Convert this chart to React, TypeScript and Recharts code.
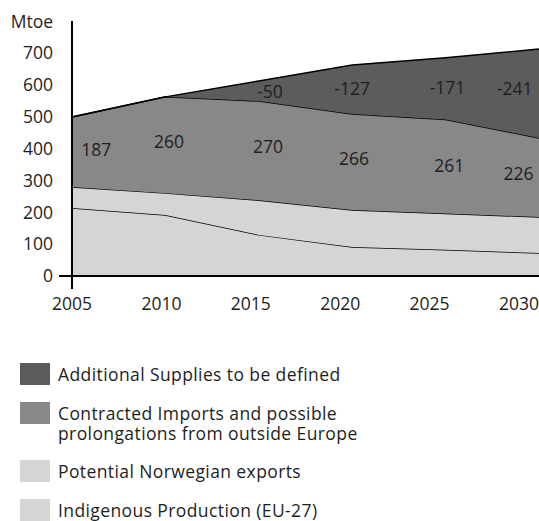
import { AreaChart, Area, XAxis, YAxis, ReferenceDot } from 'recharts';

const years = [2005, 2010, 2015, 2020, 2025, 2030];
const indigenous = [213, 191, 129, 91, 82, 72];
const norwegian = [66, 69, 109, 116, 114, 113];
const contracted = [220, 302, 311, 301, 295, 248];
const additional = [0, 0, 63, 154, 194, 279];

const yTicks = [0, 100, 200, 300, 400, 500, 600, 700];

// numbers printed inside the bands
const contractedNotes = ['187', '260', '270', '266', '261', '226'];
const additionalNotes = ['-50', '-127', '-171', '-241'];

// where those numbers sit, as [year, Mtoe]
const contractedNoteAt = [
  [2006.3, 395],
  [2010.2, 421],
  [2015.5, 405],
  [2020.1, 367],
  [2025.2, 345],
  [2028.9, 320],
];
const additionalNoteAt = [
  [2015.6, 578],
  [2020.0, 587],
  [2025.1, 590],
  [2028.7, 587],
];

const FONT = '"Open Sans", Roboto, sans-serif';
const INK = '#1e1e1e';
const FS = 17.5;

const series = [
  { key: 'indigenous', name: 'Indigenous Production (EU-27)', fill: '#d5d5d5' },
  { key: 'norwegian', name: 'Potential Norwegian exports', fill: '#d5d5d5' },
  {
    key: 'contracted',
    name: 'Contracted Imports and possible\nprolongations from outside Europe',
    fill: '#888888',
  },
  { key: 'additional', name: 'Additional Supplies to be defined', fill: '#5c5c5c' },
];

const data = years.map((year, i) => ({
  year,
  indigenous: indigenous[i],
  norwegian: norwegian[i],
  contracted: contracted[i],
  additional: additional[i],
}));

function YTick({ y, payload }: any) {
  return (
    <g>
      <text
        x={53}
        y={y}
        dy="0.36em"
        textAnchor="end"
        fill={INK}
        fontSize={FS}
        fontFamily={FONT}
      >
        {payload.value}
      </text>
      {payload.value === 0 && <line x1={59} x2={72} y1={y} y2={y} stroke="#000" strokeWidth={2} />}
    </g>
  );
}

function XTick({ x, payload, index }: any) {
  return (
    <g>
      <text
        x={x - 4 * index}
        y={304}
        dy="0.36em"
        textAnchor="middle"
        fill={INK}
        fontSize={FS}
        fontFamily={FONT}
      >
        {payload.value}
      </text>
      {index === 0 && <line x1={x} x2={x} y1={276} y2={289} stroke="#000" strokeWidth={2} />}
    </g>
  );
}

function MtoeLabel({ viewBox }: any) {
  return (
    <text
      x={viewBox.x + viewBox.width - 19}
      y={viewBox.y + 1}
      dy="0.36em"
      textAnchor="end"
      fill={INK}
      fontSize={FS}
      fontFamily={FONT}
    >
      Mtoe
    </text>
  );
}

function note(text: string, at: number[], key: string) {
  return (
    <ReferenceDot
      key={key}
      x={at[0]}
      y={at[1]}
      r={0}
      fill="none"
      stroke="none"
      label={{
        value: text,
        position: 'center',
        fill: INK,
        fontSize: FS,
        fontFamily: FONT,
      }}
    />
  );
}

export default function App() {
  const legendItems = [...series].reverse();
  return (
    <div
      style={{
        position: 'absolute',
        left: 0,
        top: 0,
        width: 539,
        height: 521,
        background: '#fff',
        overflow: 'hidden',
        fontFamily: FONT,
      }}
    >
      <AreaChart
        width={539}
        height={320}
        data={data}
        margin={{ top: 21, right: 0, bottom: 0, left: 0 }}
      >
        <XAxis
          dataKey="year"
          type="number"
          domain={[2005, 2030]}
          ticks={years}
          interval={0}
          height={44}
          tickLine={false}
          axisLine={{ stroke: '#000', strokeWidth: 2 }}
          tick={<XTick />}
        />
        <YAxis
          type="number"
          domain={[0, 800]}
          ticks={yTicks}
          interval={0}
          width={72}
          tickLine={false}
          axisLine={{ stroke: '#000', strokeWidth: 2 }}
          tick={<YTick />}
          label={{ value: 'Mtoe', content: <MtoeLabel /> }}
        />
        {series.map((s) => (
          <Area
            key={s.key}
            type="linear"
            dataKey={s.key}
            stackId="gas"
            stroke="#000"
            strokeWidth={1.5}
            fill={s.fill}
            fillOpacity={1}
            isAnimationActive={false}
          />
        ))}
        {contractedNotes.map((t, i) => note(t, contractedNoteAt[i], `c-${i}`))}
        {additionalNotes.map((t, i) => note(t, additionalNoteAt[i], `a-${i}`))}
      </AreaChart>

      <div style={{ position: 'absolute', left: 20, top: 363 }}>
        {legendItems.map((s) => (
          <div key={s.key} style={{ display: 'flex', alignItems: 'flex-start', marginBottom: 17 }}>
            <div style={{ width: 30, height: 22, background: s.fill, flex: 'none' }} />
            <div
              style={{
                marginLeft: 8,
                paddingTop: 1,
                fontSize: FS,
                lineHeight: '20px',
                letterSpacing: 0.4,
                color: INK,
                whiteSpace: 'pre-line',
              }}
            >
              {s.name}
            </div>
          </div>
        ))}
      </div>
    </div>
  );
}
